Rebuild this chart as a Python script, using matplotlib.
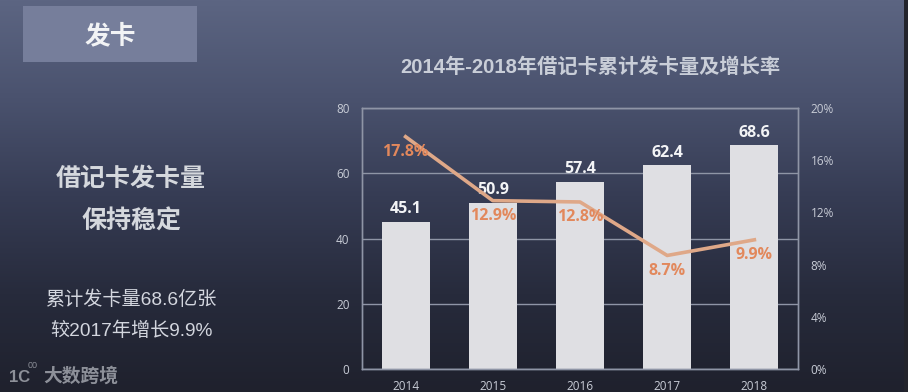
#!/usr/bin/env python3
# -*- coding: utf-8 -*-
import matplotlib
matplotlib.use('Agg')
import matplotlib.pyplot as plt
import matplotlib.patches as patches
from matplotlib.colors import LinearSegmentedColormap
import numpy as np

plt.rcParams['font.family'] = ['Noto Sans CJK SC', 'DejaVu Sans']
latin = ['Liberation Sans', 'Noto Sans CJK SC']
nums = ['Open Sans', 'Noto Sans CJK SC']

years = ['2014', '2015', '2016', '2017', '2018']
cards = [45.1, 50.9, 57.4, 62.4, 68.6]
growth = [17.8, 12.9, 12.8, 8.7, 9.9]
card_ticks = [0, 20, 40, 60, 80]
growth_ticks = [0, 4, 8, 12, 16, 20]

W, H = 908, 392
fig = plt.figure(figsize=(W / 100, H / 100), dpi=100)

# background gradient, top to bottom
bg = fig.add_axes([0, 0, 1, 1])
cmap = LinearSegmentedColormap.from_list(
    'bg', [(0, '#5c6582'), (0.25, '#4a526e'), (0.5, '#363c54'), (0.75, '#272b3c'), (1, '#1f212d')])
bg.imshow(np.linspace(0, 1, 256).reshape(-1, 1), aspect='auto', cmap=cmap, extent=[0, W, H, 0])
bg.set_xlim(0, W)
bg.set_ylim(H, 0)
bg.axis('off')

# dark strip at the right edge
bg.add_patch(patches.Rectangle((904, 0), 4, H, color='#23242c', lw=0))

# header box
bg.add_patch(patches.Rectangle((23, 6), 174, 56, color='#767e9b', lw=0))
bg.text(110, 36, '发卡', color='#f2f3f5', fontsize=18.5, fontweight='bold', ha='center', va='center')

# left text
bg.text(131, 179, '借记卡发卡量', color='#d5d8dd', fontsize=18, fontweight='bold', ha='center', va='center')
bg.text(131, 222, '保持稳定', color='#d5d8dd', fontsize=18, fontweight='bold', ha='center', va='center')
bg.text(131, 300, '累计发卡量68.6亿张', family=latin, color='#d3d6de', fontsize=13.8, ha='center', va='center')
bg.text(131, 331, '较2017年增长9.9%', family=latin, color='#d3d6de', fontsize=13.8, ha='center', va='center')

# watermark
bg.text(9, 378, '1C', family=latin, color='#8d9099', fontsize=12, fontweight='bold', ha='left', va='center')
bg.text(28, 365, '00', family=latin, color='#8d9099', fontsize=6.5, ha='left', va='center')
bg.text(81, 376, '大数跨境', color='#8d9099', fontsize=13.5, fontweight='bold', ha='center', va='center')

bg.text(590, 67, '2014年-2018年借记卡累计发卡量及增长率', family=latin, color='#c9ced8', fontsize=14.6,
        fontweight='bold', ha='center', va='center')

# chart
ax = fig.add_axes([362 / W, 1 - 369 / H, 436 / W, 261 / H])
ax.patch.set_alpha(0)
x = np.arange(len(years))
ax.bar(x, cards, width=0.55, color='#dfdfe3', zorder=2)
ax.set_xlim(-0.5, 4.5)
ax.set_ylim(0, 80)
ax.set_xticks(x)
ax.set_xticklabels(years, family=nums)
ax.set_yticks(card_ticks)
ax.set_yticklabels(card_ticks, family=nums)
ax.grid(axis='y', color='#8f95a6', lw=1, zorder=1)
ax.set_axisbelow(True)
ax.tick_params(length=0, colors='#c8ccd6', labelsize=8.5, pad=9)
ax.tick_params(axis='x', pad=8)
for s in ax.spines.values():
    s.set_color('#8f95a6')
    s.set_linewidth(1)

for i, v in enumerate(cards):
    ax.annotate('%.1f' % v, (i, v), xytext=(0, 9), textcoords='offset points', ha='center', va='center',
                family=nums, color='#f3f4f6', fontsize=11.5, fontweight='bold', zorder=5)

ax2 = ax.twinx()
ax2.patch.set_alpha(0)
ax2.plot(x, growth, color='#dfa888', lw=2.6, solid_joinstyle='round', zorder=3)
ax2.set_ylim(0, 20)
ax2.set_yticks(growth_ticks)
ax2.set_yticklabels(['%d%%' % t for t in growth_ticks], family=nums)
ax2.tick_params(length=0, colors='#c8ccd6', labelsize=8.5, pad=9)
for s in ax2.spines.values():
    s.set_color('#8f95a6')
    s.set_linewidth(1)

for i, v in enumerate(growth):
    ax2.annotate('%.1f%%' % v, (i, v), xytext=(0, -11), textcoords='offset points', ha='center', va='center',
                 family=nums, color='#e2885c', fontsize=11.5, fontweight='bold', zorder=6)

plt.savefig('out.png', dpi=100)
